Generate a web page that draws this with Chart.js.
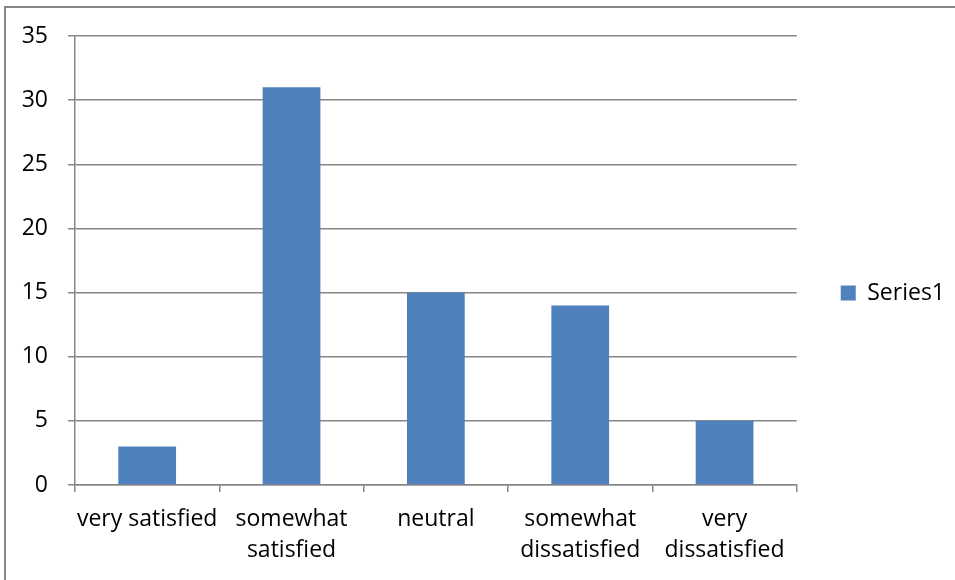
<!DOCTYPE html>
<html>
<head>
<meta charset="utf-8">
<script src="https://cdn.jsdelivr.net/npm/chart.js@4.4.1/dist/chart.umd.min.js"></script>
<style>
  html, body { margin: 0; padding: 0; background: #fff; }
  #wrap { position: absolute; left: 0; top: 0; width: 955px; height: 580px; }
</style>
</head>
<body>
<div id="wrap"><canvas id="grafico" width="955" height="580"></canvas></div>
<script>
// dados
const categorias = [
    'very satisfied',
    ['somewhat', 'satisfied'],
    'neutral',
    ['somewhat', 'dissatisfied'],
    ['very', 'dissatisfied']
];
const valores = [3, 31, 15, 14, 5];
const nomeSerie = 'Series1';
const yMin = 0;
const yMax = 35;
const yPasso = 5;

const corLinha = '#878787';
const fonte = { family: 'Open Sans', size: 23, lineHeight: 1.35 };

// moldura do gráfico (borda cinza no topo e à esquerda)
const moldura = {
    id: 'moldura',
    beforeDraw(chart) {
        const c = chart.ctx;
        c.save();
        c.strokeStyle = corLinha;
        c.lineWidth = 2;
        c.beginPath();
        c.moveTo(5, 600);
        c.lineTo(5, 7);
        c.lineTo(960, 7);
        c.stroke();
        c.restore();
    }
};

// afasta a legenda da área do gráfico e centraliza na altura da moldura
const ajusteLegenda = {
    id: 'ajusteLegenda',
    afterLayout(chart) {
        const leg = chart.legend;
        const pad = leg.options.labels.padding;
        const dx = chart.chartArea.right + 44 - (leg.left + pad);
        const dy = -15;
        leg.left += dx; leg.right += dx;
        leg.top += dy; leg.bottom += dy;
    }
};

const config = {
    type: 'bar',
    data: {
        labels: categorias,
        datasets: [{
            label: nomeSerie,
            data: valores,
            backgroundColor: '#4F81BD',
            borderWidth: 0,
            categoryPercentage: 0.4,
            barPercentage: 1
        }]
    },
    options: {
        responsive: false,
        animation: false,
        layout: { padding: { top: 36, left: 6, right: 36, bottom: 0 } },
        plugins: {
            legend: {
                position: 'right',
                labels: {
                    color: '#000',
                    font: fonte,
                    boxWidth: 15,
                    boxHeight: 15,
                    padding: 8
                }
            },
            tooltip: { enabled: false }
        },
        scales: {
            y: {
                min: yMin,
                max: yMax,
                ticks: { stepSize: yPasso, color: '#000', font: fonte, padding: 20 },
                grid: { color: corLinha, lineWidth: 1.5, tickLength: 7, tickColor: corLinha },
                border: { color: corLinha, width: 1.5 },
                afterFit: (s) => { s.width = 69; }
            },
            x: {
                ticks: { color: '#000', font: fonte, padding: 12, maxRotation: 0, autoSkip: false },
                grid: { drawOnChartArea: false, offset: true, tickLength: 7, tickColor: corLinha, lineWidth: 1.5 },
                border: { color: corLinha, width: 1.5 },
                afterFit: (s) => { s.height = 95; }
            }
        }
    },
    plugins: [moldura, ajusteLegenda]
};

const ctx = document.getElementById('grafico').getContext('2d');
const grafico = new Chart(ctx, config);
</script>
</body>
</html>
